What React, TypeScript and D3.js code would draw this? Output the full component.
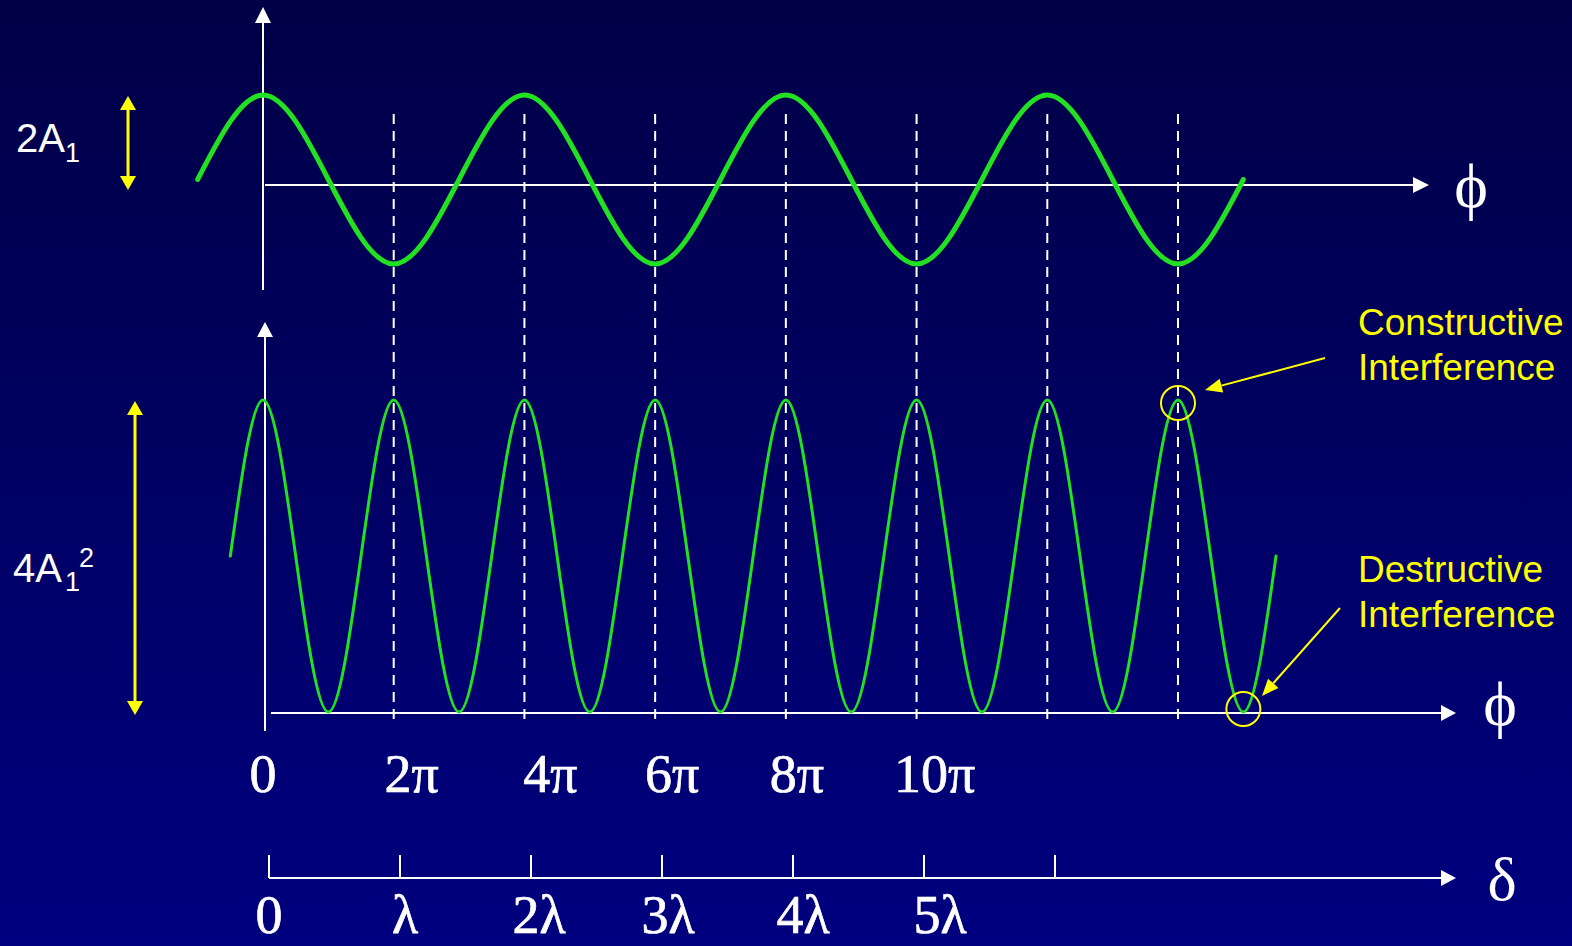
import * as d3 from "d3";

// phase axis, in units of π
const phaseTicks = [0, 2, 4, 6, 8, 10];
const phaseLabels = ["0", "2π", "4π", "6π", "8π", "10π"];
const dashedAt = [2, 4, 6, 8, 10, 12, 14];

// path difference axis, in units of λ
const pathTicks = [0, 1, 2, 3, 4, 5, 6];
const pathLabels = ["0", "λ", "2λ", "3λ", "4λ", "5λ"];

// summed amplitude (in A1 units), read at every π from -π to 15π
const ampPhase = [-1, 0, 1, 2, 3, 4, 5, 6, 7, 8, 9, 10, 11, 12, 13, 14, 15];
const ampValues = [0, 1, 0, -1, 0, 1, 0, -1, 0, 1, 0, -1, 0, 1, 0, -1, 0];

// intensity (in 4A1² units), read at every π/2 from -π/2 to 15.5π
const intPhase = [
    -0.5, 0, 0.5, 1, 1.5, 2, 2.5, 3, 3.5, 4, 4.5, 5, 5.5, 6, 6.5, 7, 7.5,
    8, 8.5, 9, 9.5, 10, 10.5, 11, 11.5, 12, 12.5, 13, 13.5, 14, 14.5, 15, 15.5,
];
const intValues = [
    0.5, 1, 0.5, 0, 0.5, 1, 0.5, 0, 0.5, 1, 0.5, 0, 0.5, 1, 0.5, 0, 0.5,
    1, 0.5, 0, 0.5, 1, 0.5, 0, 0.5, 1, 0.5, 0, 0.5, 1, 0.5, 0, 0.5,
];

const W = 1572;
const H = 946;
const WHITE = "#ffffff";
const YELLOW = "#ffff00";
const GREEN = "#22e022";
const SANS = "Liberation Sans, Arial, sans-serif";
const SERIF = "Liberation Serif, Times New Roman, DejaVu Serif, serif";

// hand placement of the labels on the slide (px off their tick)
const phaseNudge = [0, 18, 26, 17, 11, 18];
const pathNudge = [0, 5, 8, 6, 10, 16];

function Arrow({x1, y1, x2, y2, color, width = 2, head = 15, half = 7}: {
    x1: number; y1: number; x2: number; y2: number; color: string; width?: number; head?: number; half?: number;
}) {
    const a = Math.atan2(y2 - y1, x2 - x1);
    const bx = x2 - head * Math.cos(a);
    const by = y2 - head * Math.sin(a);
    const px = -Math.sin(a) * half;
    const py = Math.cos(a) * half;
    return <g>
        <line x1={x1} y1={y1} x2={bx} y2={by} stroke={color} strokeWidth={width}/>
        <polygon points={`${x2},${y2} ${bx + px},${by + py} ${bx - px},${by - py}`} fill={color}/>
    </g>;
}

function DoubleArrow({x, y1, y2}: {x: number; y1: number; y2: number}) {
    const head = 14;
    const half = 8;
    return <g>
        <line x1={x} y1={y1 + head} x2={x} y2={y2 - head} stroke={YELLOW} strokeWidth={3}/>
        <polygon points={`${x},${y1} ${x - half},${y1 + head} ${x + half},${y1 + head}`} fill={YELLOW}/>
        <polygon points={`${x},${y2} ${x - half},${y2 - head} ${x + half},${y2 - head}`} fill={YELLOW}/>
    </g>;
}

export default function App() {
    const x = d3.scaleLinear().domain([0, 14]).range([263, 1178]);
    const xPath = d3.scaleLinear().domain([0, 6]).range([269, 1055]);
    const yAmp = d3.scaleLinear().domain([-1, 1]).range([264, 95]);
    const yInt = d3.scaleLinear().domain([0, 1]).range([712, 400]);

    const topAxisY = 185;
    const botAxisY = 713;
    const pathAxisY = 878;

    const ampLine = d3.line<number>()
        .x((_, i) => x(ampPhase[i]))
        .y(d => yAmp(d))
        .curve(d3.curveNatural);
    const intLine = d3.line<number>()
        .x((_, i) => x(intPhase[i]))
        .y(d => yInt(d))
        .curve(d3.curveNatural);

    return <svg width={W} height={H} style={{position: "absolute", left: 0, top: 0, display: "block"}}>
        <defs>
            <linearGradient id="bg" x1="0" y1="0" x2="0" y2="1">
                <stop offset="0" stopColor="#000046"/>
                <stop offset="1" stopColor="#000080"/>
            </linearGradient>
        </defs>
        <rect width={W} height={H} fill="url(#bg)"/>

        {/* dashed guides */}
        {dashedAt.map(d => (
            <line key={d} x1={x(d)} x2={x(d)} y1={114} y2={725}
                  stroke={WHITE} strokeWidth={2} strokeDasharray="10 7"/>
        ))}

        {/* top plot axes */}
        <Arrow x1={x(0)} y1={290} x2={x(0)} y2={7} color={WHITE} head={16} half={8}/>
        <Arrow x1={x(0) + 2} y1={topAxisY} x2={1429} y2={topAxisY} color={WHITE} head={16} half={8}/>
        <text x={1471} y={207} fill={WHITE} fontFamily={SERIF} fontSize={64} textAnchor="middle">ϕ</text>

        {/* bottom plot axes */}
        <Arrow x1={x(0) + 2} y1={731} x2={x(0) + 2} y2={322} color={WHITE} head={15} half={8}/>
        <Arrow x1={271} y1={botAxisY} x2={1456} y2={botAxisY} color={WHITE} head={15} half={8}/>
        <text x={1500} y={725} fill={WHITE} fontFamily={SERIF} fontSize={64} textAnchor="middle">ϕ</text>

        {/* curves */}
        <path d={ampLine(ampValues) ?? ""} fill="none" stroke={GREEN} strokeWidth={5} strokeLinecap="round"/>
        <path d={intLine(intValues) ?? ""} fill="none" stroke={GREEN} strokeWidth={3} strokeLinecap="round"/>

        {/* amplitude markers */}
        <DoubleArrow x={128} y1={96} y2={190}/>
        <text x={16} y={152} fill={WHITE} fontFamily={SANS} fontSize={40}>
            2A<tspan fontSize={27} dy={10}>1</tspan>
        </text>
        <DoubleArrow x={135} y1={401} y2={715}/>
        <text x={13} y={582} fill={WHITE} fontFamily={SANS} fontSize={40}>
            4A
            <tspan fontSize={27} x={65} y={591}>1</tspan>
            <tspan fontSize={27} x={79} y={567}>2</tspan>
        </text>

        {/* phase labels */}
        {phaseTicks.map((t, i) => (
            <text key={t} x={x(t) + phaseNudge[i]} y={792} fill={WHITE} stroke={WHITE} strokeWidth={0.7}
                  fontFamily={SERIF} fontSize={54} textAnchor="middle">{phaseLabels[i]}</text>
        ))}

        {/* path difference axis */}
        <Arrow x1={xPath(0)} y1={pathAxisY} x2={1456} y2={pathAxisY} color={WHITE} head={15} half={8}/>
        {pathTicks.map(t => (
            <line key={t} x1={xPath(t)} x2={xPath(t)} y1={855} y2={pathAxisY} stroke={WHITE} strokeWidth={2}/>
        ))}
        {pathLabels.map((l, i) => (
            <text key={l} x={xPath(i) + pathNudge[i]} y={933} fill={WHITE} stroke={WHITE} strokeWidth={0.7}
                  fontFamily={SERIF} fontSize={54} textAnchor="middle">{l}</text>
        ))}
        <text x={1502} y={900} fill={WHITE} fontFamily={SERIF} fontSize={62} textAnchor="middle">δ</text>

        {/* annotations */}
        <circle cx={x(14)} cy={yInt(1) + 3} r={17} fill="none" stroke={YELLOW} strokeWidth={2}/>
        <circle cx={x(15)} cy={yInt(0) - 3} r={17} fill="none" stroke={YELLOW} strokeWidth={2}/>
        <Arrow x1={1325} y1={358} x2={1205} y2={390} color={YELLOW} head={17} half={7}/>
        <Arrow x1={1340} y1={608} x2={1262} y2={696} color={YELLOW} head={17} half={7}/>
        <text fill={YELLOW} fontFamily={SANS} fontSize={37}>
            <tspan x={1358} y={335}>Constructive</tspan>
            <tspan x={1358} y={380}>Interference</tspan>
        </text>
        <text fill={YELLOW} fontFamily={SANS} fontSize={37}>
            <tspan x={1358} y={582}>Destructive</tspan>
            <tspan x={1358} y={627}>Interference</tspan>
        </text>
    </svg>;
}
